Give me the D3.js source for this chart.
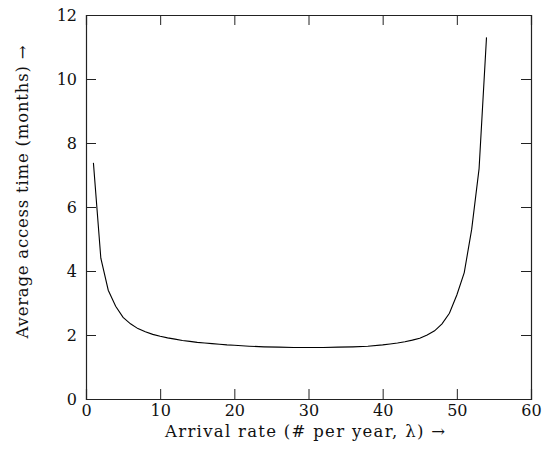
<!DOCTYPE html>
<html>
<head>
<meta charset="utf-8">
<script src="https://cdn.jsdelivr.net/npm/d3@7"></script>
<style>
  html, body { margin: 0; padding: 0; background: #fff; }
  svg { display: block; }
  text { font-family: "DejaVu Serif", serif; fill: #111; }
</style>
</head>
<body>
<svg id="chart" width="549" height="461"></svg>
<script>
// Data
const arrivalRate = [1, 2, 3, 4, 5, 6, 7, 8, 9, 10, 11, 12, 13, 14, 15, 16, 17, 18, 19, 20,
  22, 24, 26, 28, 30, 32, 34, 36, 38, 40, 41, 42, 43, 44, 45, 46, 47, 48, 49, 50, 51, 52, 53, 54];
const accessTime = [7.38, 4.4, 3.4, 2.9, 2.55, 2.35, 2.2, 2.1, 2.02, 1.96, 1.91, 1.87, 1.83, 1.8, 1.77, 1.75, 1.73, 1.71, 1.69, 1.68,
  1.65, 1.63, 1.62, 1.61, 1.61, 1.61, 1.62, 1.63, 1.65, 1.69, 1.72, 1.75, 1.79, 1.84, 1.9, 2.0, 2.13, 2.35, 2.68, 3.25, 3.95, 5.3, 7.2, 11.3];
const xTicks = [0, 10, 20, 30, 40, 50, 60];
const yTicks = [0, 2, 4, 6, 8, 10, 12];
const xLabel = "Arrival rate (# per year, λ) →";
const yLabel = "Average access time (months) →";

const FONT = '"DejaVu Serif", serif';
const svg = d3.select("#chart");
const margin = { left: 86, right: 18, top: 15, bottom: 62 };
const W = 549, H = 461;
const x = d3.scaleLinear().domain([0, 60]).range([margin.left, W - margin.right]);
const y = d3.scaleLinear().domain([0, 12]).range([H - margin.bottom, margin.top]);

const tickLen = 10;
const axisColor = "#222";

const gx = svg.append("g").attr("transform", `translate(0,${y(0)})`)
  .call(d3.axisBottom(x).tickValues(xTicks).tickSize(-tickLen).tickPadding(6).tickFormat(d3.format("d")));
const gxt = svg.append("g").attr("transform", `translate(0,${y(12)})`)
  .call(d3.axisTop(x).tickValues(xTicks).tickSize(-tickLen).tickFormat(""));
const gy = svg.append("g").attr("transform", `translate(${x(0)},0)`)
  .call(d3.axisLeft(y).tickValues(yTicks).tickSize(-tickLen).tickPadding(9).tickFormat(d3.format("d")));
const gyr = svg.append("g").attr("transform", `translate(${x(60)},0)`)
  .call(d3.axisRight(y).tickValues(yTicks).tickSize(-tickLen).tickFormat(""));

[gx, gxt, gy, gyr].forEach(g => {
  g.attr("font-family", FONT).attr("font-size", 16);
  g.select(".domain").attr("stroke", axisColor).attr("stroke-width", 1.2);
  g.selectAll(".tick line").attr("stroke", axisColor).attr("stroke-width", 1);
  g.selectAll("text").attr("fill", "#111").style("font-weight", "normal");
});
gx.selectAll(".tick").filter(d => d === 0 || d === 60).select("line").remove();
gxt.selectAll(".tick").filter(d => d === 0 || d === 60).remove();
gy.selectAll(".tick").filter(d => d === 0 || d === 12).select("line").remove();
gyr.selectAll(".tick").filter(d => d === 0 || d === 12).remove();

const line = d3.line().x((d, i) => x(arrivalRate[i])).y(d => y(d));
svg.append("path").datum(accessTime)
  .attr("d", line)
  .attr("fill", "none")
  .attr("stroke", "#000")
  .attr("stroke-width", 1.1);

svg.append("text")
  .attr("x", 305)
  .attr("y", 437)
  .attr("text-anchor", "middle")
  .attr("font-family", FONT)
  .attr("font-size", 16.5)
  .attr("fill", "#111")
  .attr("textLength", 280)
  .attr("lengthAdjust", "spacing")
  .text(xLabel);

svg.append("text")
  .attr("transform", `translate(28,192) rotate(-90)`)
  .attr("text-anchor", "middle")
  .attr("font-family", FONT)
  .attr("font-size", 16.5)
  .attr("fill", "#111")
  .attr("textLength", 293)
  .attr("lengthAdjust", "spacing")
  .text(yLabel);
</script>
</body>
</html>
